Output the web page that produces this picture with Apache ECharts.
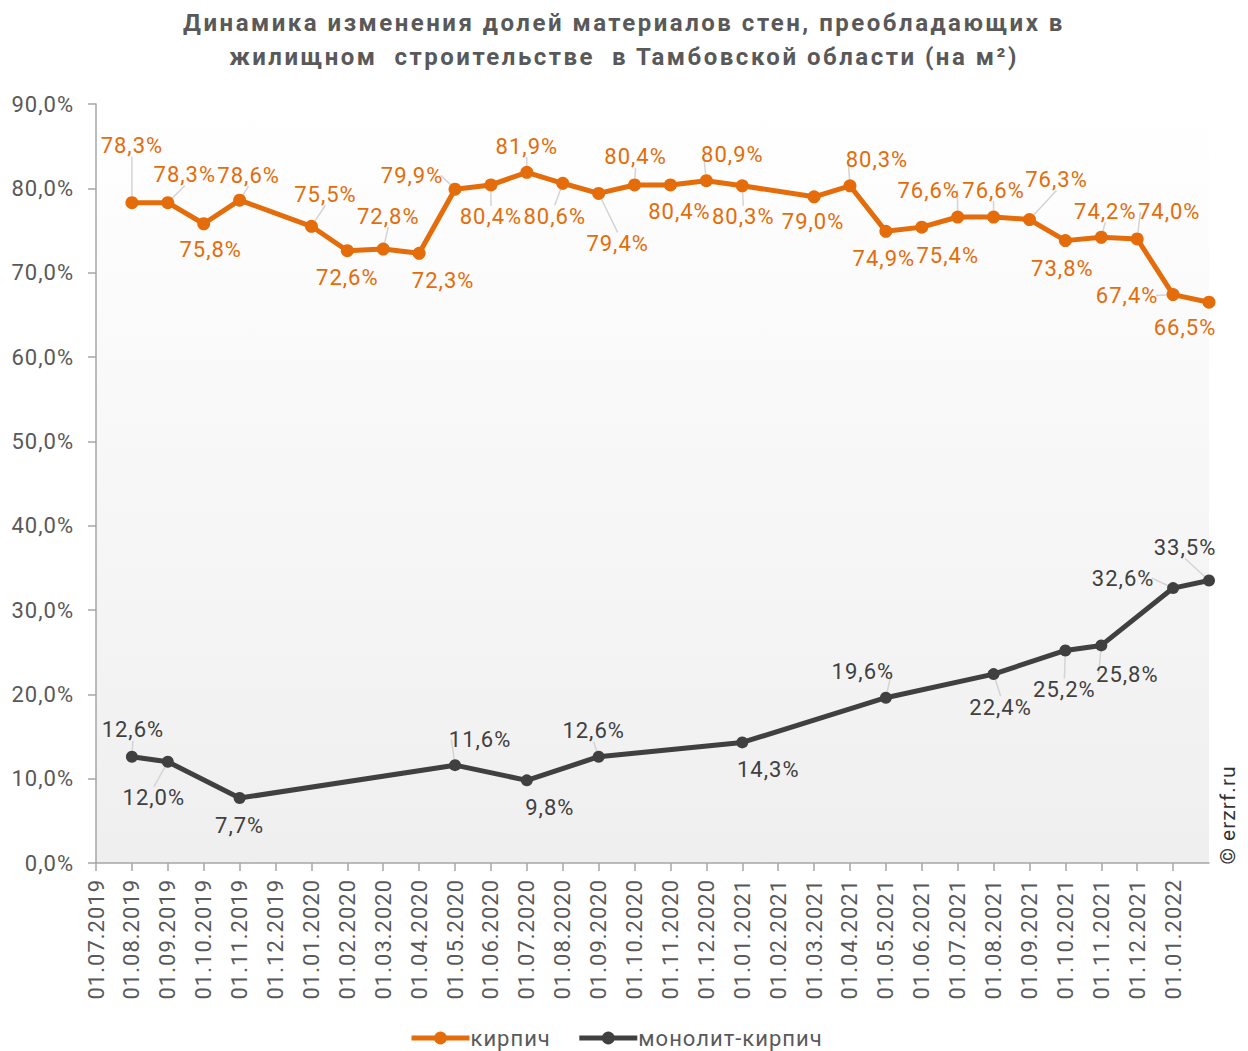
<!DOCTYPE html>
<html>
<head>
<meta charset="utf-8">
<script src="https://cdn.jsdelivr.net/npm/echarts@6.0.0/dist/echarts.min.js"></script>
<style>
  html, body { margin: 0; padding: 0; background: #fff; }
  #chart { width: 1248px; height: 1051px; }
  /* the source chart's text is set a little looser than plain Roboto */
  #chart text { letter-spacing: 1px; }
  #chart text[style*="bold"] { letter-spacing: 2.5px; }
</style>
</head>
<body>
<div id="chart"></div>
<script>
/* data */
var dates = [
  "01.07.2019", "01.08.2019", "01.09.2019", "01.10.2019", "01.11.2019", "01.12.2019",
  "01.01.2020", "01.02.2020", "01.03.2020", "01.04.2020", "01.05.2020", "01.06.2020",
  "01.07.2020", "01.08.2020", "01.09.2020", "01.10.2020", "01.11.2020", "01.12.2020",
  "01.01.2021", "01.02.2021", "01.03.2021", "01.04.2021", "01.05.2021", "01.06.2021",
  "01.07.2021", "01.08.2021", "01.09.2021", "01.10.2021", "01.11.2021", "01.12.2021",
  "01.01.2022", "01.02.2022"
];
var brick = [
  null, 78.3, 78.3, 75.8, 78.6, null, 75.5, 72.6, 72.8, 72.3, 79.9, 80.4,
  81.9, 80.6, 79.4, 80.4, 80.4, 80.9, 80.3, null, 79.0, 80.3, 74.9, 75.4,
  76.6, 76.6, 76.3, 73.8, 74.2, 74.0, 67.4, 66.5
];
var monolith = [
  null, 12.6, 12.0, null, 7.7, null, null, null, null, null, 11.6, null,
  9.8, null, 12.6, null, null, null, 14.3, null, null, null, 19.6, null,
  null, 22.4, null, 25.2, 25.8, null, 32.6, 33.5
];
var yTicks = [0, 10, 20, 30, 40, 50, 60, 70, 80, 90];

/* where each data label sits relative to its point, and which ones get a leader line */
var brickLabelShift = {
  1: [0, -57], 2: [17, -28], 3: [7, 26], 4: [9, -25], 6: [14, -32], 7: [0, 27],
  8: [5, -33], 9: [24, 27], 10: [-43, -14], 11: [0, 32], 12: [0, -26], 13: [-8, 33],
  14: [19, 50], 15: [1, -28], 16: [9, 27], 17: [26, -26], 18: [1, 31], 20: [-1, 25],
  21: [27, -26], 22: [-2, 27], 23: [26, 28], 24: [-29, -27], 25: [0, -27],
  26: [27, -40], 27: [-3, 28], 28: [4, -26], 29: [32, -27], 30: [-46, 1], 31: [-24, 25]
};
var monoLabelShift = {
  1: [1, -27], 2: [-14, 36], 4: [0, 27], 10: [25, -26], 12: [23, 27], 14: [-5, -26],
  18: [26, 27], 22: [-23, -26], 25: [7, 33], 27: [-1, 39], 28: [26, 29],
  30: [-50, -10], 31: [-24, -33]
};
var brickNoLeader = [3, 7, 9, 16, 20, 22, 23, 27, 31];
var monoNoLeader = [4, 12, 18];

var orange = "#E46C0A";
var dark = "#404040";
var grey = "#595959";

function fmt(v) {
  return v.toFixed(1).replace(".", ",") + "%";
}

function buildData(values, noLeader) {
  return values.map(function (v, i) {
    if (v == null) return null;
    return {
      value: v,
      labelLine: { show: noLeader.indexOf(i) < 0 }
    };
  });
}

var lastIndex = dates.length - 1;

var chart = echarts.init(document.getElementById("chart"), null, { renderer: "svg" });

var option = {
  animation: false,
  backgroundColor: "#ffffff",
  textStyle: { fontFamily: "Roboto" },
  title: {
    text: "Динамика изменения долей материалов стен, преобладающих в\nжилищном  строительстве  в Тамбовской области (на м²)",
    left: "center",
    top: 1,
    textStyle: {
      fontFamily: "Roboto",
      fontSize: 24,
      fontWeight: "bold",
      color: grey,
      lineHeight: 34
    }
  },
  legend: {
    bottom: 0,
    left: 404,
    padding: [2, 5, 2, 5],
    itemWidth: 58,
    itemHeight: 16,
    itemGap: 32,
    lineStyle: { width: 5 },
    textStyle: { fontFamily: "Roboto", fontSize: 22, color: grey, padding: [0, 0, 0, -4] },
    data: ["кирпич", "монолит-кирпич"]
  },
  grid: {
    left: 96,
    right: 39,
    top: 104,
    bottom: 188,
    show: true,
    borderWidth: 0,
    outerBoundsMode: "none",
    backgroundColor: new echarts.graphic.LinearGradient(0, 0, 0, 1, [
      { offset: 0, color: "#ffffff" },
      { offset: 1, color: "#efefef" }
    ])
  },
  xAxis: {
    type: "category",
    data: dates,
    boundaryGap: false,
    axisLine: { lineStyle: { color: "#a6a6a6", width: 1.5 } },
    axisTick: {
      length: 8,
      interval: function (i) { return i < lastIndex; },
      lineStyle: { color: "#a6a6a6", width: 1.5 }
    },
    axisLabel: {
      rotate: 90,
      margin: 16,
      fontSize: 22,
      color: grey,
      interval: function (i) { return i < lastIndex; }
    },
    splitLine: { show: false }
  },
  yAxis: {
    type: "value",
    min: yTicks[0],
    max: yTicks[yTicks.length - 1],
    interval: 10,
    axisLine: { show: true, lineStyle: { color: "#a6a6a6", width: 1.5 } },
    axisTick: { show: true, length: 8, lineStyle: { color: "#a6a6a6", width: 1.5 } },
    axisLabel: {
      margin: 22,
      fontSize: 22,
      color: grey,
      formatter: function (v) { return fmt(v); }
    },
    splitLine: { show: false }
  },
  series: [
    {
      name: "кирпич",
      type: "line",
      data: buildData(brick, brickNoLeader),
      connectNulls: true,
      showAllSymbol: true,
      symbol: "circle",
      symbolSize: 13,
      color: orange,
      lineStyle: { width: 5, color: orange },
      itemStyle: { color: orange },
      label: {
        show: true,
        position: "inside",
        fontSize: 22,
        color: orange,
        formatter: function (p) { return fmt(p.value); }
      },
      labelLine: { show: true, lineStyle: { color: "#d4d4d4", width: 1.5 } },
      labelLayout: function (p) {
        var s = brickLabelShift[p.dataIndex] || [0, -26];
        return { dx: s[0], dy: s[1] };
      },
      z: 3
    },
    {
      name: "монолит-кирпич",
      type: "line",
      data: buildData(monolith, monoNoLeader),
      connectNulls: true,
      showAllSymbol: true,
      symbol: "circle",
      symbolSize: 12,
      color: dark,
      lineStyle: { width: 5, color: dark },
      itemStyle: { color: dark },
      label: {
        show: true,
        position: "inside",
        fontSize: 22,
        color: dark,
        formatter: function (p) { return fmt(p.value); }
      },
      labelLine: { show: true, lineStyle: { color: "#d4d4d4", width: 1.5 } },
      labelLayout: function (p) {
        var s = monoLabelShift[p.dataIndex] || [0, -26];
        return { dx: s[0], dy: s[1] };
      },
      z: 2
    }
  ],
  graphic: [
    {
      type: "text",
      x: 1228,
      y: 815,
      rotation: Math.PI / 2,
      style: {
        text: "© erzrf.ru",
        fontFamily: "Roboto",
        fontSize: 21,
        fill: "#333333",
        align: "center",
        verticalAlign: "middle"
      }
    }
  ]
};

chart.setOption(option);
window.addEventListener("resize", chart.resize);
</script>
</body>
</html>
